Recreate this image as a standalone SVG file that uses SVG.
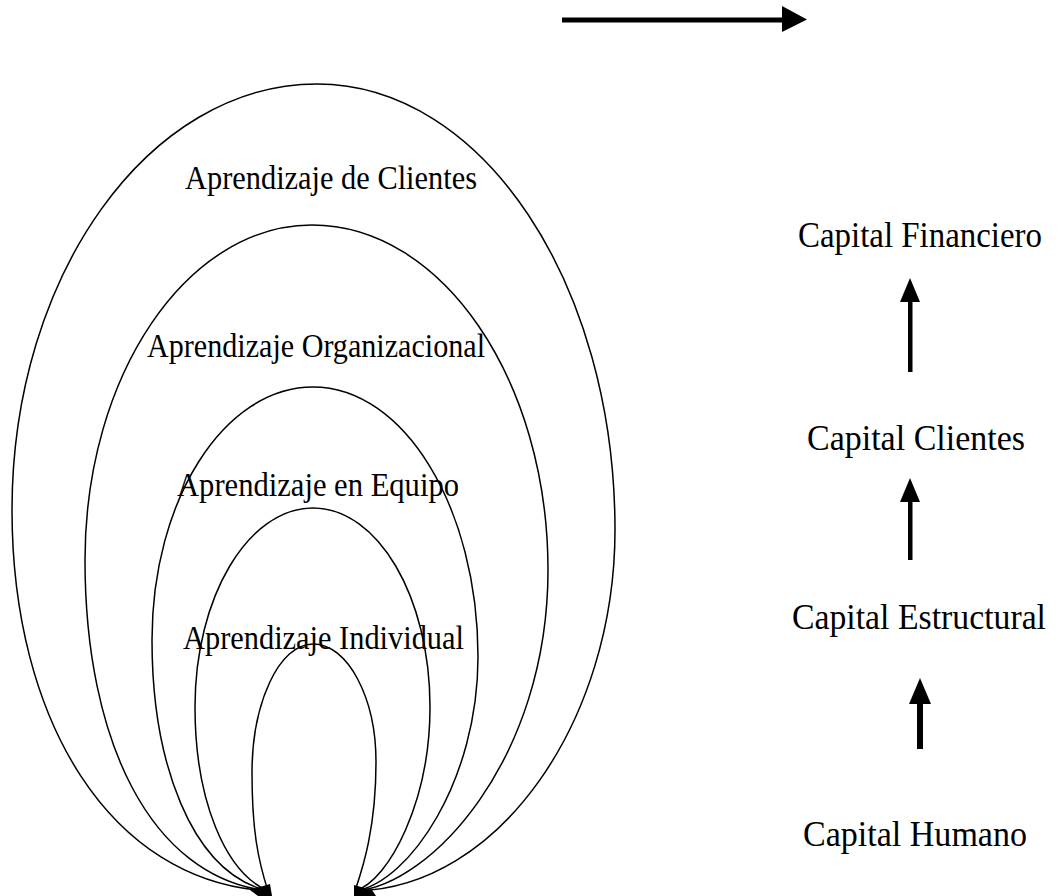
<svg xmlns="http://www.w3.org/2000/svg" width="1060" height="896" viewBox="0 0 1060 896">
<style>
.loop{fill:none;stroke:#000;stroke-width:1.5}
.t{font-family:"Liberation Serif","Times New Roman",serif;font-size:34px;fill:#000}
.r{font-family:"Liberation Serif","Times New Roman",serif;font-size:35px;fill:#000}
</style>
<rect width="1060" height="896" fill="#fff"/>
<g id="loops">
<path id="loop1" class="loop" d="M268,891 C110,882 12,720 12,510 C12,275 149,84 317,84 C483,84 615,284 615,530 C615,720 500,888 355,891"/>
<path id="loop2" class="loop" d="M268,891 C150,877 85,740 85,560 C85,375 187,225 312,225 C442,225 548,380 548,570 C548,760 430,886 355,891"/>
<path id="loop3" class="loop" d="M268,891 C190,872 152,760 152,640 C152,500 224,387 313,387 C404,387 478,508 478,657 C478,780 410,882 355,891"/>
<path id="loop4" class="loop" d="M268,891 C225,872 195,800 195,707 C195,597 248,508 313,508 C378,508 430,597 430,707 C430,800 390,880 355,891"/>
<path id="loop5" class="loop" d="M268,891 C258,860 252,830 252,773 C252,703 279,644 313,644 C348,644 376,698 376,762 C376,830 362,870 355,891"/>
<path d="M250,890 L270,884 L272,896 L258,896 Z" fill="#000"/>
<path d="M354,885 L372,890 L376,896 L354,896 Z" fill="#000"/>
</g>
<g id="loop-labels">
<text id="lbl-clientes" class="t" x="185" y="189" textLength="292" lengthAdjust="spacingAndGlyphs">Aprendizaje de Clientes</text>
<text id="lbl-org" class="t" x="147" y="357" textLength="338" lengthAdjust="spacingAndGlyphs">Aprendizaje Organizacional</text>
<text id="lbl-equipo" class="t" x="177" y="496" textLength="282" lengthAdjust="spacingAndGlyphs">Aprendizaje en Equipo</text>
<text id="lbl-individual" class="t" x="183" y="649" textLength="281" lengthAdjust="spacingAndGlyphs">Aprendizaje Individual</text>
</g>
<g id="node-financiero"><text class="r" x="798" y="247" textLength="244" lengthAdjust="spacingAndGlyphs">Capital Financiero</text></g>
<g id="node-clientes"><text class="r" x="807" y="450" textLength="218" lengthAdjust="spacingAndGlyphs">Capital Clientes</text></g>
<g id="node-estructural"><text class="r" x="792" y="629" textLength="254" lengthAdjust="spacingAndGlyphs">Capital Estructural</text></g>
<g id="node-humano"><text class="r" x="803" y="846" textLength="224" lengthAdjust="spacingAndGlyphs">Capital Humano</text></g>
<g id="connectors" fill="#000">
<rect x="562" y="17.5" width="221" height="5"/>
<polygon points="782,6 807,19.5 782,32"/>
<rect x="908" y="301" width="4.5" height="71"/>
<polygon points="900,302 910,278 920,302"/>
<rect x="908" y="501" width="4.5" height="59"/>
<polygon points="900,502 910,478 920,502"/>
<rect x="917" y="703" width="6" height="46"/>
<polygon points="909,704 920,678 931,704"/>
</g>
</svg>
